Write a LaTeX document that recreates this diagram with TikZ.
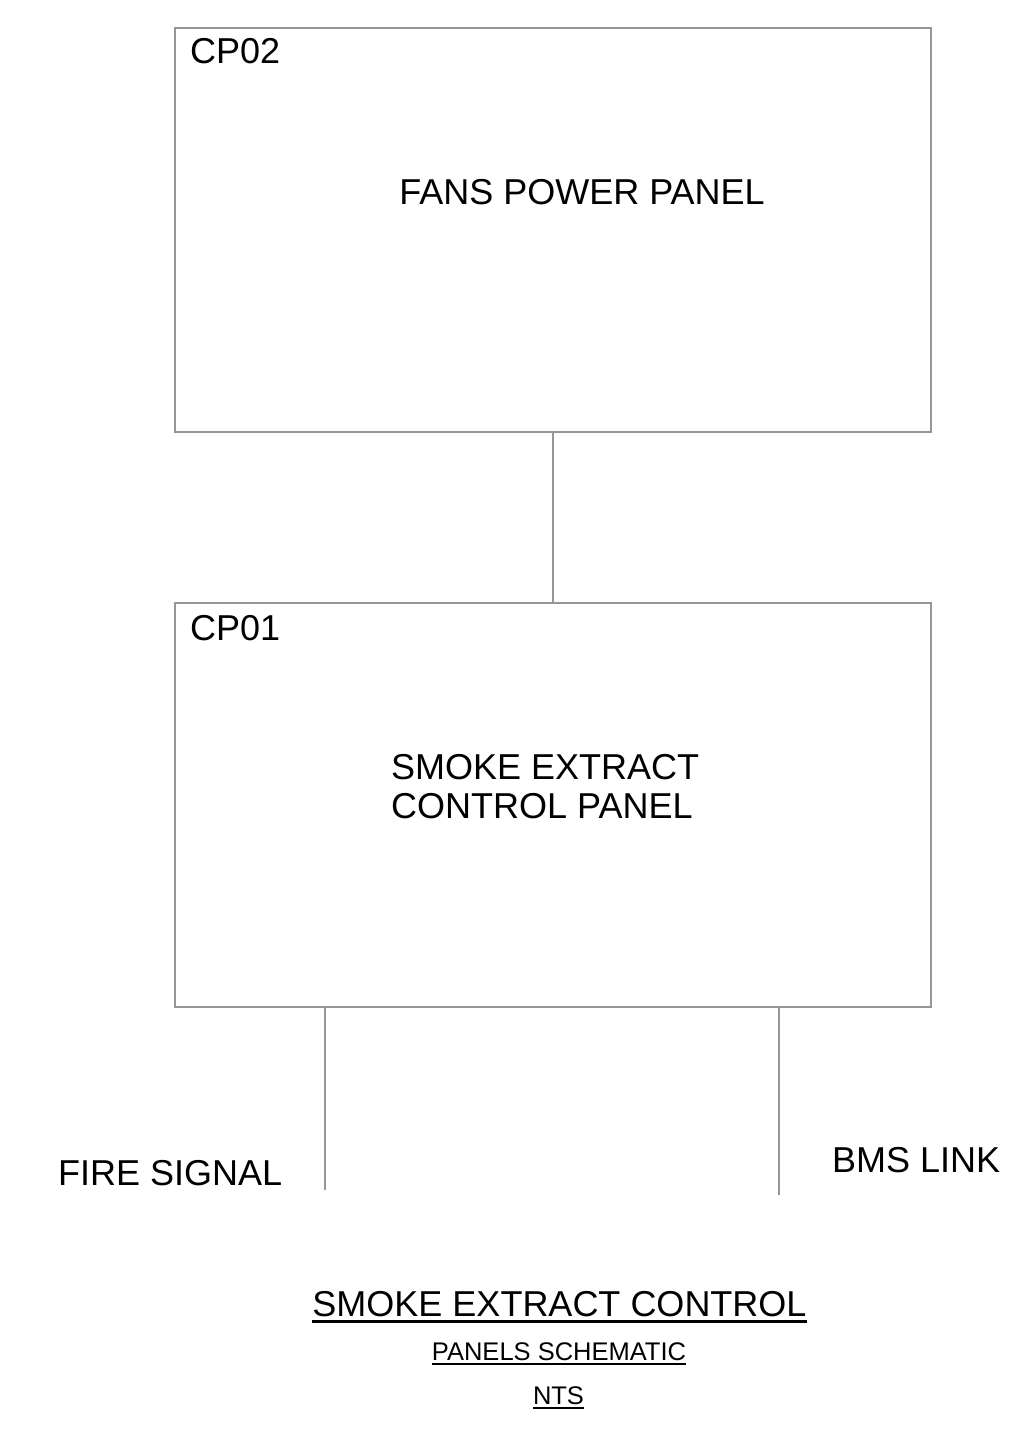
\documentclass[tikz,border=0pt]{standalone}
\usepackage{fontspec}
\setmainfont{Liberation Sans}
\definecolor{linegray}{RGB}{150,150,150}
\begin{document}
\begin{tikzpicture}[x=1pt,y=-1pt,
  panel/.style={draw=linegray, line width=1.6pt, rectangle, inner sep=0pt, anchor=north west, minimum width=756pt, minimum height=404pt},
  wire/.style={draw=linegray, line width=1.6pt},
  lbl/.style={inner sep=0pt, font=\fontsize{36}{39}\selectfont},
  sublbl/.style={inner sep=0pt, font=\fontsize{25.5}{28}\selectfont},
  uline/.style={line width=#1, draw=black}
]
\useasboundingbox (0,0) rectangle (1034,1430);
% panels
\node[panel] (cp02) at (174,27) {};
\node[panel] (cp01) at (174,602) {};
% connector between panels
\draw[wire] (cp02.south) -- (cp01.north);
% outgoing signal lines
\coordinate (fsend) at (325,1190);
\coordinate (bmsend) at (779,1195);
\draw[wire] (cp01.south -| fsend) -- (fsend);
\draw[wire] (cp01.south -| bmsend) -- (bmsend);
% labels
\node[lbl, anchor=base west] (cp02lbl) at (190,63) {CP02};
\node[lbl, anchor=base] (fpp) at (582,204) {FANS POWER PANEL};
\node[lbl, anchor=base west] (cp01lbl) at (190,640) {CP01};
\node[lbl, anchor=west, align=left] (secp) at (391,787) {SMOKE EXTRACT\\CONTROL PANEL};
\node[lbl, anchor=base west] (fire) at (58,1185) {FIRE SIGNAL};
\node[lbl, anchor=base west] (bms) at (832,1172) {BMS LINK};
% title block
\node[lbl, anchor=base] (t1) at (559.5,1316) {SMOKE EXTRACT CONTROL};
\node[sublbl, anchor=base] (t2) at (559,1360) {PANELS SCHEMATIC};
\node[sublbl, anchor=base] (t3) at (558.5,1404) {NTS};
\draw[uline=2.6pt] ([yshift=-5.5pt]t1.base west) -- ([yshift=-5.5pt]t1.base east);
\draw[uline=1.7pt] ([yshift=-4pt]t2.base west) -- ([yshift=-4pt]t2.base east);
\draw[uline=1.7pt] ([yshift=-4pt]t3.base west) -- ([yshift=-4pt]t3.base east);
\end{tikzpicture}
\end{document}
